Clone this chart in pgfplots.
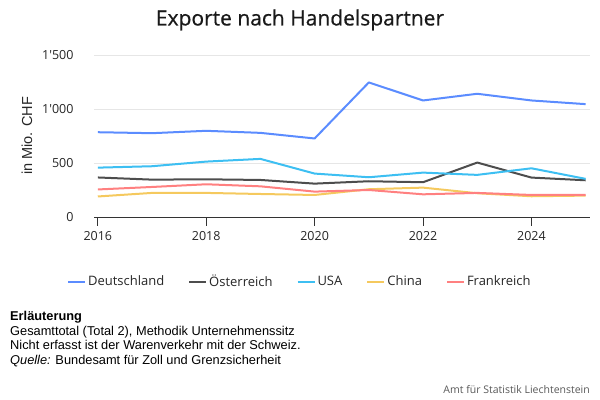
\documentclass[border=0pt]{standalone}
\usepackage{pgfplots}
\pgfplotsset{compat=1.18}
\usepackage{fontspec}
\setmainfont{Open Sans}
\newfontfamily\titlefont[FakeBold=0.6]{Open Sans}
\newfontfamily\arial{Liberation Sans}
\definecolor{cDE}{HTML}{5B8CFF}
\definecolor{cAT}{HTML}{4D4D4D}
\definecolor{cUS}{HTML}{3DBFF2}
\definecolor{cCN}{HTML}{F5C95E}
\definecolor{cFR}{HTML}{FF8080}
\definecolor{gridc}{HTML}{E6E6E6}
\definecolor{axc}{HTML}{333333}
\begin{document}
\begin{tikzpicture}
\path[use as bounding box] (0,0) rectangle (600bp,400bp);
\begin{axis}[
  at={(94bp,183bp)}, anchor=south west,
  scale only axis, width=496bp, height=162bp,
  xmin=2015.93, xmax=2025.08, ymin=0, ymax=1500,
  clip=false,
  axis x line*=bottom, axis y line*=left,
  y axis line style={draw=none},
  x axis line style={draw=axc, line width=0.9bp},
  xtick={2016,2018,2020,2022,2024},
  xticklabels={2016,2018,2020,2022,2024},
  ytick={0,500,1000,1500},
  yticklabels={0,500,1\textquotesingle000,1\textquotesingle500},
  ymajorgrids, grid style={draw=gridc, line width=0.9bp},
  tick align=outside, major tick length=9bp,
  xtick style={draw=axc, line width=0.9bp},
  ytick style={draw=none},
  ticklabel style={font=\fontsize{12.5bp}{14bp}\selectfont, text=black!85},
  xticklabel style={yshift=-2bp},
  yticklabel style={xshift=-8bp},
  legend columns=5,
  legend style={at={(0.415,-0.40)}, anchor=center, draw=none, fill=none,
    font=\fontsize{13bp}{15bp}\selectfont, text=black!85,
    /tikz/every even column/.append style={column sep=22bp}},
  legend image code/.code={\draw[#1, line width=2bp] (0bp,0bp) -- (17bp,0bp);},
  every axis plot/.append style={line width=2bp, mark=none, line join=round},
]
\addplot[cDE] coordinates {(2016,785)(2017,776)(2018,798)(2019,779)(2020,727)(2021,1246)(2022,1079)(2023,1141)(2024,1079)(2025,1045)};
\addplot[cAT] coordinates {(2016,366)(2017,346)(2018,349)(2019,343)(2020,309)(2021,331)(2022,322)(2023,504)(2024,365)(2025,340)};
\addplot[cUS] coordinates {(2016,457)(2017,470)(2018,513)(2019,538)(2020,402)(2021,368)(2022,411)(2023,390)(2024,451)(2025,353)};
\addplot[cCN] coordinates {(2016,190)(2017,223)(2018,223)(2019,213)(2020,204)(2021,257)(2022,272)(2023,220)(2024,192)(2025,198)};
\addplot[cFR] coordinates {(2016,255)(2017,278)(2018,303)(2019,284)(2020,235)(2021,250)(2022,210)(2023,223)(2024,204)(2025,204)};
\legend{Deutschland,Österreich,USA,China,Frankreich}
\end{axis}
\node[font=\titlefont\fontsize{21bp}{25bp}\selectfont, text=black!90] at (300bp,380bp) {Exporte nach Handelspartner};
\node[rotate=90, font=\arial\fontsize{14.5bp}{16bp}\selectfont, text=black!85] at (27bp,264bp) {in Mio. CHF};
\node[anchor=north west, align=left, inner sep=0pt, font=\arial\fontsize{12.8bp}{14.6bp}\selectfont] at (10bp,89bp)
 {\textbf{Erläuterung}\\Gesamttotal (Total 2), Methodik Unternehmenssitz\\Nicht erfasst ist der Warenverkehr mit der Schweiz.\\\textit{Quelle:} Bundesamt für Zoll und Grenzsicherheit};
\node[anchor=east, inner sep=0pt, font=\fontsize{10.5bp}{12bp}\selectfont, text=black!65] at (590bp,10bp) {Amt für Statistik Liechtenstein};
\end{tikzpicture}
\end{document}
